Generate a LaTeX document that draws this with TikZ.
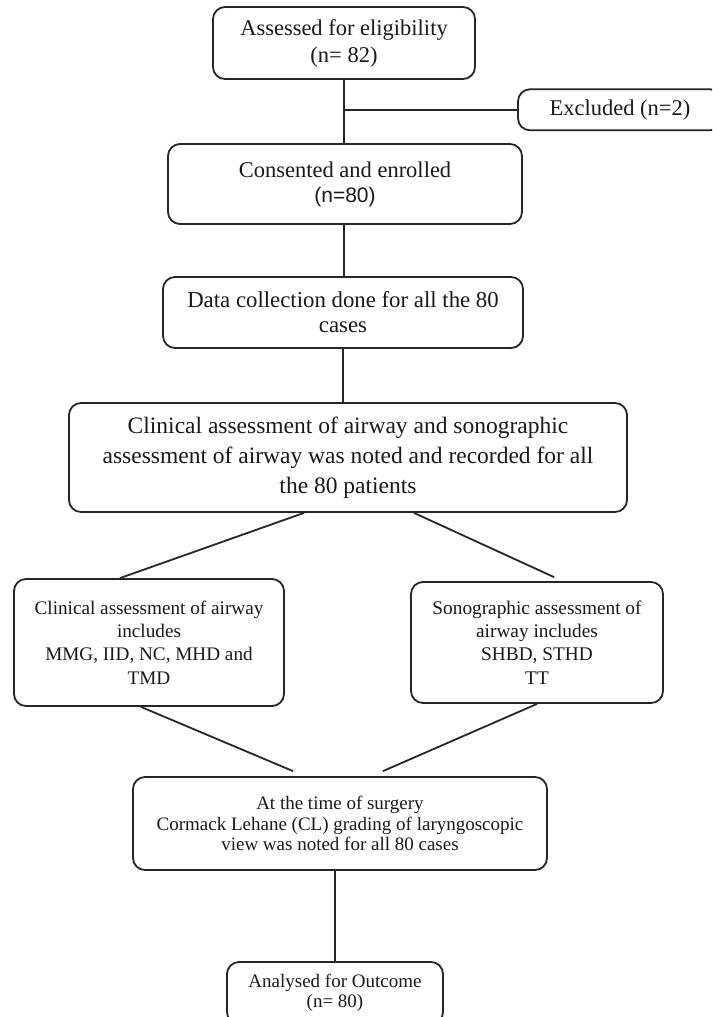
\documentclass[tikz,border=0pt]{standalone}
\usepackage{fontspec}
\setmainfont{Liberation Serif}
\newfontfamily\arialfont{Liberation Sans}
\begin{document}
\begin{tikzpicture}[x=1pt,y=-1pt,
  box/.style={draw=black!85, line width=1.8pt, rounded corners=12pt, align=center, inner sep=0pt, text=black!90},
  conn/.style={draw=black!85, line width=1.8pt}]
\useasboundingbox (0,0) rectangle (712,1017);
\clip (0,0) rectangle (712,1017);
\fill[white] (0,0) rectangle (712,1017);
\node[box, minimum width=262pt, minimum height=72pt, font=\fontsize{22.5}{27}\selectfont] (b1) at (344,43) {Assessed for eligibility\\(n= 82)};
\node[box, minimum width=204pt, minimum height=41pt, font=\fontsize{22.5}{27}\selectfont] (ex) at (620,109.8) {Excluded (n=2)};
\node[box, minimum width=354pt, minimum height=80pt, font=\fontsize{22.5}{25}\selectfont] (b2) at (345,184) {Consented and enrolled\\{\arialfont\fontsize{21}{25}\selectfont (n=80)}};
\node[box, minimum width=360pt, minimum height=71pt, font=\fontsize{22.8}{25}\selectfont] (b3) at (343,312.5) {Data collection done for all the 80\\cases};
\node[box, minimum width=558pt, minimum height=109pt, font=\fontsize{23.5}{30}\selectfont] (b4) at (348,457.5) {Clinical assessment of airway and sonographic\\assessment of airway was noted and recorded for all\\the 80 patients};
\node[box, minimum width=270pt, minimum height=127pt, font=\fontsize{19.2}{23.3}\selectfont] (cl) at (149,642.5) {Clinical assessment of airway\\includes\\MMG, IID, NC, MHD and\\TMD};
\node[box, minimum width=252pt, minimum height=121pt, font=\fontsize{19.3}{23.3}\selectfont] (so) at (537,642.5) {Sonographic assessment of\\airway includes\\SHBD, STHD\\TT};
\node[box, minimum width=414pt, minimum height=93pt, font=\fontsize{19}{20.5}\selectfont] (cs) at (340,823.5) {At the time of surgery\\Cormack Lehane (CL) grading of laryngoscopic\\view was noted for all 80 cases};
\node[box, minimum width=216pt, minimum height=62pt, font=\fontsize{19}{20}\selectfont] (an) at (335,993) {Analysed for Outcome\\(n= 80)};
\path[conn] (b1.south) -- (b1.south |- b2.north);
\path[conn] (b1.south |- ex.west) -- (ex.west);
\path[conn] ([xshift=-1pt]b2.south) -- ([xshift=-1pt]b2.south |- b3.north);
\path[conn] (b3.south) -- (b3.south |- b4.north);
\path[conn] ([xshift=-44pt]b4.south) -- ([xshift=-29pt]cl.north);
\path[conn] ([xshift=66pt]b4.south) -- ([xshift=17pt,yshift=4pt]so.north);
\path[conn] ([xshift=-8pt]cl.south) -- ([xshift=-47pt,yshift=5pt]cs.north);
\path[conn] (so.south) -- ([xshift=43pt,yshift=5pt]cs.north);
\path[conn] ([xshift=-5pt]cs.south) -- (an.north);
\end{tikzpicture}
\end{document}
